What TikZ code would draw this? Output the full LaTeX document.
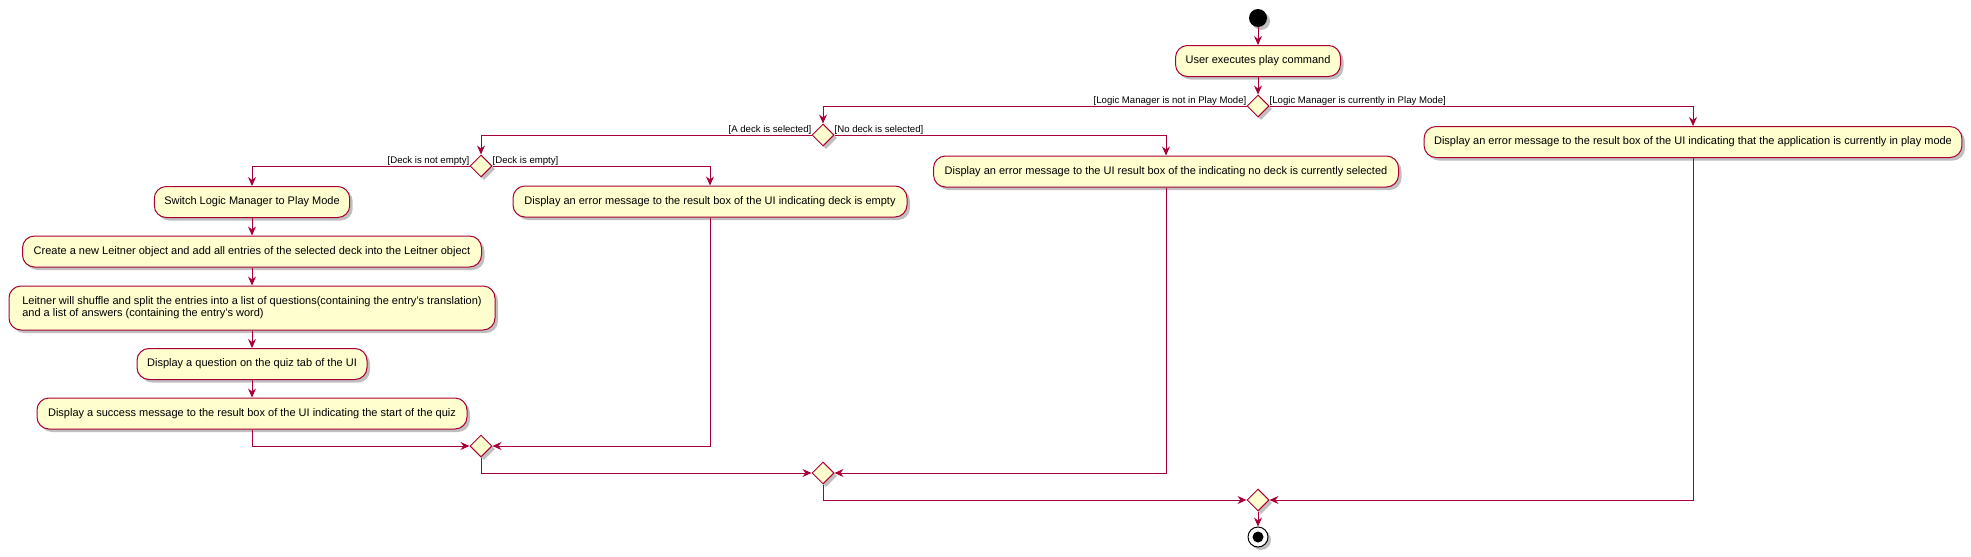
\documentclass[tikz,border=0pt]{standalone}
\usepackage{fontspec}
\setmainfont{Liberation Sans}
\usetikzlibrary{arrows.meta,shapes.geometric,shadows}
\definecolor{umlfill}{HTML}{FEFECE}
\definecolor{umlline}{HTML}{A80036}
\tikzset{
  shad/.style={drop shadow={shadow xshift=3pt,shadow yshift=-3pt,fill=black,opacity=0.25}},
  actbox/.style={draw=umlline,fill=umlfill,line width=1pt,rounded corners=12pt,
    minimum height=31pt,inner xsep=10pt,inner ysep=4pt,font=\fontsize{11}{13}\selectfont,shad},
  dec/.style={diamond,draw=umlline,fill=umlfill,line width=1pt,inner sep=0pt,
    minimum width=22pt,minimum height=22pt,shad},
  arr/.style={draw=umlline,line width=1pt,-{Stealth[length=9pt,width=8pt,inset=3pt]}},
  guard/.style={font=\fontsize{9.6}{11}\selectfont,inner sep=0pt},
}
\begin{document}
\begin{tikzpicture}[x=1pt,y=-1pt]
\useasboundingbox (0,0) rectangle (1971,557);
% start / end
\node[circle,fill=black,minimum size=18pt,inner sep=0pt,shad] (start) at (1258,18) {};
\node[circle,draw=black,fill=white,line width=1pt,minimum size=20pt,inner sep=0pt,shad] (end) at (1258,537) {};
\node[circle,fill=black,minimum size=11pt,inner sep=0pt] (endin) at (1258,537) {};
% decisions
\node[dec] (d1) at (1258,106) {};
\node[dec] (d2) at (823,135) {};
\node[dec] (d3) at (481,166) {};
\node[dec] (d4) at (481,446) {};
\node[dec] (d5) at (823,473) {};
\node[dec] (d6) at (1258,500) {};
% activities
\node[actbox,minimum width=165pt] (user) at (1258,61) {User executes play command};
\node[actbox,minimum width=536pt] (inplay) at (1693,142) {Display an error message to the result box of the UI indicating that the application is currently in play mode};
\node[actbox,minimum width=465pt] (nodeck) at (1166,171.5) {Display an error message to the UI result box of the indicating no deck is currently selected};
\node[actbox,minimum width=394pt] (empty) at (710,201.5) {Display an error message to the result box of the UI indicating deck is empty};
\node[actbox,minimum width=193pt] (switch) at (252,202) {Switch Logic Manager to Play Mode};
\node[actbox,minimum width=459pt] (create) at (252,251.5) {Create a new Leitner object and add all entries of the selected deck into the Leitner object};
\node[actbox,minimum width=486pt,minimum height=44pt,inner xsep=0pt] (leitner) at (252,308) {\begin{tabular}{@{}l@{}}Leitner will shuffle and split the entries into a list of questions(containing the entry's translation)\\[-1pt]and a list of answers (containing the entry's word)\end{tabular}};
\node[actbox,minimum width=230pt] (question) at (252,364) {Display a question on the quiz tab of the UI};
\node[actbox,minimum width=430pt] (success) at (252,413.5) {Display a success message to the result box of the UI indicating the start of the quiz};
% guards
\node[guard,anchor=base east] (g1) at ([yshift=3pt]d1.west) {[Logic Manager is not in Play Mode]};
\node[guard,anchor=base west] (g2) at ([yshift=3pt]d1.east) {[Logic Manager is currently in Play Mode]};
\node[guard,anchor=base east] (g3) at ([yshift=3pt]d2.west) {[A deck is selected]};
\node[guard,anchor=base west] (g4) at ([yshift=3pt]d2.east) {[No deck is selected]};
\node[guard,anchor=base east] (g5) at ([yshift=3pt]d3.west) {[Deck is not empty]};
\node[guard,anchor=base west] (g6) at ([yshift=3pt]d3.east) {[Deck is empty]};
% connectors
\draw[arr] (start) -- (user);
\draw[arr] (user) -- (d1);
\draw[arr] (d1.west) -| (d2.north);
\draw[arr] (d1.east) -| (inplay.north);
\draw[arr] (d2.west) -| (d3.north);
\draw[arr] (d2.east) -| (nodeck.north);
\draw[arr] (d3.west) -| (switch.north);
\draw[arr] (d3.east) -| (empty.north);
\draw[arr] (switch) -- (create);
\draw[arr] (create) -- (leitner);
\draw[arr] (leitner) -- (question);
\draw[arr] (question) -- (success);
\draw[arr] (success.south) |- (d4.west);
\draw[arr] (empty.south) |- (d4.east);
\draw[arr] (d4.south) |- (d5.west);
\draw[arr] (nodeck.south) |- (d5.east);
\draw[arr] (d5.south) |- (d6.west);
\draw[arr] (inplay.south) |- (d6.east);
\draw[arr] (d6.south) -- (end);
\end{tikzpicture}
\end{document}
